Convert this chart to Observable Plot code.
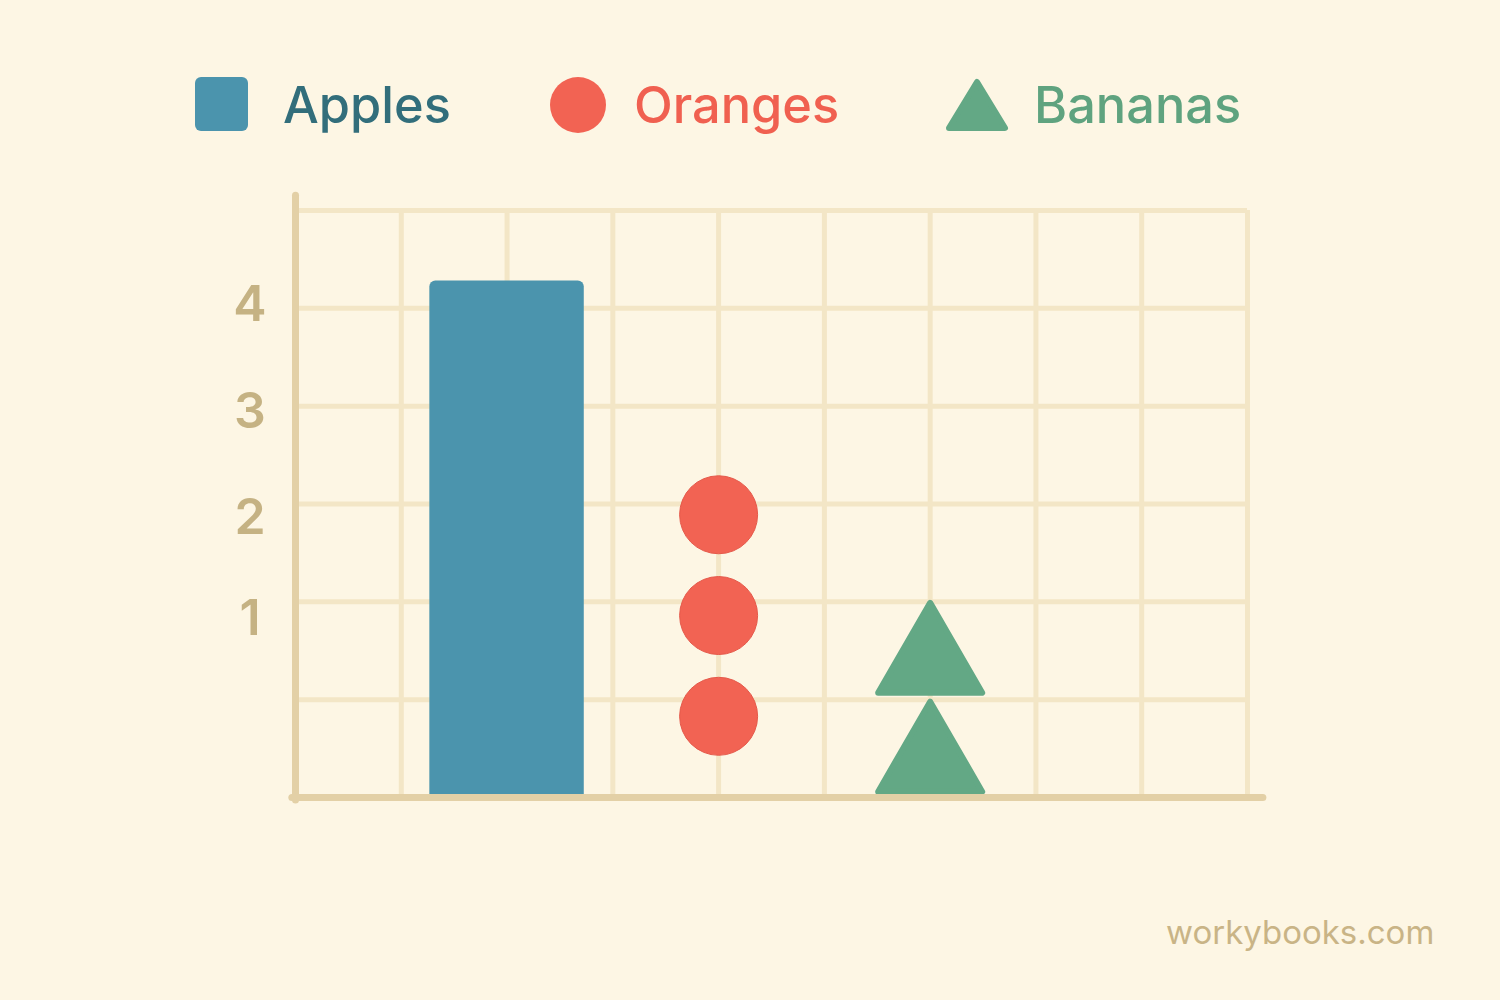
<!DOCTYPE html>
<html><head><meta charset="utf-8">
<script src="https://cdn.jsdelivr.net/npm/d3@7"></script>
<script src="https://cdn.jsdelivr.net/npm/@observablehq/plot@0.6"></script>
<style>
html,body{margin:0;padding:0;background:#FDF6E4;}
#wrap{position:relative;width:1500px;height:1000px;font-family:Inter,"Noto Sans",sans-serif;overflow:hidden;}
#wrap svg.chart{position:absolute;left:0;top:0;}
.lg{position:absolute;}
.lgtext{position:absolute;font-size:50.5px;font-weight:500;line-height:54px;white-space:nowrap;}
#caption{position:absolute;left:1166px;top:912px;font-size:33px;line-height:40px;color:#C9B486;white-space:nowrap;}
</style></head><body>
<div id="wrap"></div>
<script>
// ---- data ----
const fruits = ["Apples", "Oranges", "Bananas"];
const fruitColors = ["#4B94AD", "#F26353", "#63A885"];
const fruitTextColors = ["#326E7B", "#F06050", "#5FA37F"];
const fruitColumns = [2, 4, 6];            // grid column centres
const appleBarTop = 5.28;                  // bar height in grid rows
const orangeDotRows = [0.83, 1.86, 2.89];  // circle centres in grid rows
const bananaTriRows = [0.52, 1.53];        // triangle centres in grid rows
const yTickLabels = ["1", "2", "3", "4"];
const yTickRows = [1.82, 2.86, 3.94, 5.03];
const gridCols = 9, gridRows = 6;
const captionText = "workybooks.com";

// ---- build tables ----
const barData = [{fruit: fruits[0], col: fruitColumns[0], top: appleBarTop}];
const orangeData = orangeDotRows.map(r => ({fruit: fruits[1], col: fruitColumns[1], row: r}));
const bananaData = bananaTriRows.map(r => ({fruit: fruits[2], col: fruitColumns[2], row: r}));
const tickData = yTickLabels.map((t, i) => ({label: t, row: yTickRows[i]}));
const vLines = d3.range(1, gridCols + 1);
const hLines = d3.range(1, gridRows + 1);

const barHalf = 0.73;
const gridColor = "#F3E6C6";
const axisColor = "#E3D0A6";

const triangleSymbol = {
  draw(ctx, size) {
    const r = Math.sqrt(size / Math.PI);
    const hw = r * 1.04, h = r * 1.8;
    ctx.moveTo(0, -h / 2);
    ctx.lineTo(hw, h / 2);
    ctx.lineTo(-hw, h / 2);
    ctx.closePath();
  }
};

const chart = Plot.plot({
  width: 1500,
  height: 1000,
  marginLeft: 295,
  marginRight: 253,
  marginTop: 210,
  marginBottom: 203,
  style: {background: "transparent", overflow: "visible"},
  x: {type: "linear", domain: [0, gridCols], axis: null},
  y: {type: "linear", domain: [0, gridRows], axis: null},
  marks: [
    Plot.ruleX(vLines, {x: d => d, y1: 0, y2: gridRows, stroke: gridColor, strokeWidth: 5}),
    Plot.ruleY(hLines, {y: d => d, x1: 0, x2: gridCols, stroke: gridColor, strokeWidth: 5}),
    Plot.rectY(barData, {x1: d => d.col - barHalf, x2: d => d.col + barHalf, y1: -0.03, y2: d => d.top, fill: fruitColors[0], rx: 6}),
    Plot.dot(orangeData, {x: "col", y: "row", r: 39, fill: fruitColors[1], stroke: "#E5594A", strokeWidth: 1}),
    Plot.dot(bananaData, {x: "col", y: "row", r: 50, symbol: triangleSymbol, fill: fruitColors[2], stroke: fruitColors[2], strokeWidth: 6, strokeLinejoin: "round"}),
    Plot.ruleX([0], {x: d => d, y1: -0.03, y2: 6.15, stroke: axisColor, strokeWidth: 7, strokeLinecap: "round"}),
    Plot.ruleY([0], {y: d => d, x1: -0.03, x2: 9.15, stroke: axisColor, strokeWidth: 7, strokeLinecap: "round"}),
    Plot.text(tickData, {x: d => -0.43, y: "row", text: "label", fontSize: 50, fontWeight: 600, fontFamily: "Inter", fill: "#C5B283", textAnchor: "middle"})
  ]
});
chart.classList.add("chart");
const wrap = document.getElementById("wrap");
wrap.appendChild(chart);

// ---- legend ----
function legendShape(i, left, top) {
  const ns = "http://www.w3.org/2000/svg";
  const s = document.createElementNS(ns, "svg");
  s.setAttribute("width", 64); s.setAttribute("height", 64);
  s.setAttribute("class", "lg");
  s.style.left = left + "px"; s.style.top = top + "px";
  let el;
  if (i === 0) {
    el = document.createElementNS(ns, "rect");
    el.setAttribute("x", 0); el.setAttribute("y", 0);
    el.setAttribute("width", 53); el.setAttribute("height", 54);
    el.setAttribute("rx", 6);
  } else if (i === 1) {
    el = document.createElementNS(ns, "circle");
    el.setAttribute("cx", 28); el.setAttribute("cy", 28); el.setAttribute("r", 28);
  } else {
    el = document.createElementNS(ns, "path");
    el.setAttribute("d", "M31,4 L59,50 L3,50 Z");
    el.setAttribute("stroke", fruitColors[i]);
    el.setAttribute("stroke-width", 6);
    el.setAttribute("stroke-linejoin", "round");
  }
  el.setAttribute("fill", fruitColors[i]);
  s.appendChild(el);
  wrap.appendChild(s);
}
const shapePos = [[195, 77], [550, 77], [946, 78]];
const textLeft = [283, 634, 1034];
fruits.forEach((f, i) => {
  legendShape(i, shapePos[i][0], shapePos[i][1]);
  const t = document.createElement("div");
  t.className = "lgtext";
  t.textContent = f;
  t.style.left = textLeft[i] + "px";
  t.style.top = "78px";
  t.style.color = fruitTextColors[i];
  wrap.appendChild(t);
});

const cap = document.createElement("div");
cap.id = "caption";
cap.textContent = captionText;
wrap.appendChild(cap);
</script>
</body></html>
